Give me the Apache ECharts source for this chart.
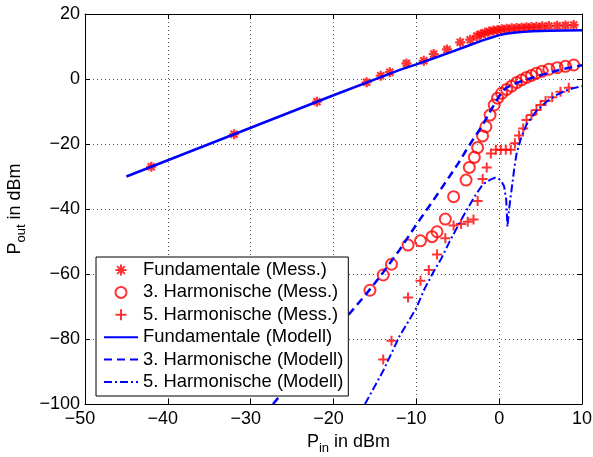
<!DOCTYPE html>
<html><head><meta charset="utf-8">
<script src="https://cdn.jsdelivr.net/npm/echarts@6/dist/echarts.min.js"></script>
<style>html,body{margin:0;padding:0;background:#fff}#c{width:593px;height:457px}</style>
</head><body><div id="c"></div>
<script>
// ---- data ----
const fundMessX = [-42, -32, -22, -16, -14.3, -13.2, -11.2, -9.1, -7.9, -6.3, -4.7, -3.5, -2.7, -2.2, -1.7, -1.2, -0.7, -0.2, 0.3, 0.9, 1.5, 2.1, 2.7, 3.3, 3.9, 4.5, 5.2, 6.0, 7.0, 8.0, 9.0];
const fundMessY = [-27, -17, -7, -1, 1, 2.1, 4.8, 5.6, 7.7, 9.1, 11.3, 12.1, 13.2, 13.8, 14.2, 14.6, 14.9, 15.1, 15.3, 15.5, 15.6, 15.7, 15.8, 15.9, 16.0, 16.1, 16.2, 16.3, 16.4, 16.5, 16.6];

const h3MessX = [-15.6, -14.0, -13.0, -11.0, -9.5, -8.1, -7.5, -6.5, -5.5, -4.0, -3.6, -3.0, -2.6, -2.0, -1.6, -1.1, -0.6, -0.2, 0.3, 0.9, 1.5, 2.1, 2.7, 3.3, 3.9, 4.5, 5.2, 6.0, 7.0, 8.0, 9.0];
const h3MessY = [-65, -60.3, -57, -51.1, -49.8, -48.5, -47, -43.1, -36.2, -31.1, -27.2, -24.1, -21.1, -17.5, -14.7, -11.1, -8.0, -5.9, -4.4, -3.2, -2.2, -1.1, -0.3, 0.5, 1.1, 1.8, 2.4, 3.0, 3.5, 3.9, 4.3];

const h5MessX = [-14.0, -13.0, -11.0, -9.5, -8.5, -7.5, -6.5, -5.5, -4.6, -3.8, -3.1, -2.6, -2.0, -1.5, -1.0, -0.4, 0.2, 0.8, 1.4, 1.9, 2.4, 2.9, 3.3, 3.9, 4.5, 5.0, 5.6, 6.4, 7.4, 8.4];
const h5MessY = [-86.3, -80.5, -67.2, -62.1, -58.8, -54, -49, -45.1, -44.6, -43.9, -43.2, -37.5, -30.8, -27.2, -22.9, -21.8, -21.8, -21.8, -21.8, -19.8, -17.4, -15.2, -12.6, -11.1, -9.5, -8.0, -6.8, -5.6, -3.9, -2.7];

const fundModX = [-45, -40, -30, -20, -15, -12, -10, -8, -6, -4, -2, -1, 0, 1, 2, 3, 4, 6, 8, 10];
const fundModY = [-30, -25, -15, -5, -0.1, 2.8, 4.5, 6.3, 8.1, 10, 11.9, 12.7, 13.5, 14, 14.3, 14.5, 14.7, 14.85, 14.95, 15];

const h3ModX = [-27.3, -24, -21, -18, -16, -14, -12, -10, -8, -6, -5, -4, -3, -2, -1, -0.5, 0, 0.5, 1, 2, 3, 4, 5, 6, 7, 8, 9, 10];
const h3ModY = [-100, -90, -81, -72, -66, -59.5, -52.5, -44.8, -37.5, -30, -26.2, -22, -18, -14.2, -9.6, -7.5, -5.3, -3.5, -2.5, -1.3, -0.4, 0.4, 1.2, 1.9, 2.6, 3.2, 3.7, 4.2];

const h5ModX = [-16.2, -14, -12, -10, -9, -8, -7, -6, -5, -4, -3, -2, -1.5, -1, -0.5, 0, 0.3, 0.6, 0.85, 1.0, 1.2, 1.5, 1.8, 2.1, 2.6, 3.3, 4.5, 5.8, 7, 8, 9, 10];
const h5ModY = [-100, -89.8, -79, -70.5, -64.5, -59.7, -55.3, -50.1, -45.3, -40.7, -36.3, -32.5, -31.6, -30.9, -30.4, -30.8, -31.6, -33.1, -37.2, -45.5, -40, -34, -28, -23, -18.5, -14, -9.8, -6.8, -4.8, -3.6, -2.8, -2.2];

const xTicks = [-50, -40, -30, -20, -10, 0, 10];
const yTicks = [-100, -80, -60, -40, -20, 0, 20];
const seriesNames = ['Fundamentale (Mess.)', '3. Harmonische (Mess.)', '5. Harmonische (Mess.)',
                     'Fundamentale (Modell)', '3. Harmonische (Modell)', '5. Harmonische (Modell)'];

// ---- chart ----
function pairs(xs, ys) { return xs.map((x, i) => [x, ys[i]]); }
const FONT = '"Liberation Sans", Arial, Helvetica, sans-serif';
const RED = '#ff0000', BLUE = '#0000ff';
const STAR = 'path://M5,0L5,10M0,5L10,5M1.5,1.5L8.5,8.5M1.5,8.5L8.5,1.5';
const PLUS = 'path://M5,0L5,10M0,5L10,5';

const xStep = xTicks[1] - xTicks[0];
const yStep = yTicks[1] - yTicks[0];

const tickCommon = { show: true, inside: true, length: 5, lineStyle: { color: '#000', width: 1 } };
const lineCommon = { show: true, onZero: false, lineStyle: { color: '#000', width: 1 } };
const gridLine = { show: true, lineStyle: { color: '#555', width: 1, type: [1, 3] } };

const legendData = seriesNames.map((n, i) => i < 3 ? { name: n } : { name: n, itemStyle: { opacity: 0 } });

const chart = echarts.init(document.getElementById('c'), null, { renderer: 'canvas' });
chart.setOption({
  animation: false,
  backgroundColor: '#fff',
  grid: { left: 85, right: 11, top: 14, bottom: 53, containLabel: false, outerBoundsMode: 'none' },
  xAxis: [{
    type: 'value', min: xTicks[0], max: xTicks[xTicks.length - 1], interval: xStep, position: 'bottom',
    axisLine: lineCommon, axisTick: tickCommon, splitLine: gridLine,
    axisLabel: {
      show: true, showMinLabel: true, showMaxLabel: true, margin: 6, color: '#000', fontSize: 18, fontFamily: FONT,
      formatter: v => v < 0 ? '{n|\u2212' + (-v) + '}' : '{p|' + v + '}',
      rich: { n: { fontSize: 18, fontFamily: FONT, color: '#000', padding: [0, 10, 0, 0] }, p: { fontSize: 18, fontFamily: FONT, color: '#000' } }
    },
    name: '{pad|}{a|P}{b|in}{a| in dBm}', nameLocation: 'middle', nameGap: 22,
    nameTextStyle: {
      rich: {
        pad: { width: 30 },
        a: { fontSize: 18, fontFamily: FONT, color: '#000', lineHeight: 26, verticalAlign: 'middle' },
        b: { fontSize: 13, fontFamily: FONT, color: '#000', lineHeight: 12, verticalAlign: 'bottom' }
      }
    }
  }, {
    type: 'value', min: xTicks[0], max: xTicks[xTicks.length - 1], interval: xStep, position: 'top',
    axisLine: lineCommon, axisTick: tickCommon, axisLabel: { show: false }, splitLine: { show: false }
  }],
  yAxis: [{
    type: 'value', min: yTicks[0], max: yTicks[yTicks.length - 1], interval: yStep, position: 'left',
    axisLine: lineCommon, axisTick: tickCommon, splitLine: gridLine,
    axisLabel: {
      show: true, showMinLabel: true, showMaxLabel: true, margin: 5, color: '#000', fontSize: 18, fontFamily: FONT,
      formatter: v => v < 0 ? '\u2212' + (-v) : String(v)
    },
    name: '{a|P}{b|out}{a| in dBm}', nameLocation: 'middle', nameGap: 57, nameRotate: 90,
    nameTextStyle: {
      rich: {
        a: { fontSize: 18, fontFamily: FONT, color: '#000', lineHeight: 26, verticalAlign: 'middle' },
        b: { fontSize: 13, fontFamily: FONT, color: '#000', lineHeight: 12, verticalAlign: 'bottom' }
      }
    }
  }, {
    type: 'value', min: yTicks[0], max: yTicks[yTicks.length - 1], interval: yStep, position: 'right',
    axisLine: lineCommon, axisTick: tickCommon, axisLabel: { show: false }, splitLine: { show: false }
  }],
  legend: {
    orient: 'vertical', left: 96, top: 257, padding: [4, 5, 5, 7], itemGap: 4.4,
    itemWidth: 34, itemHeight: 11, selectedMode: false,
    backgroundColor: '#fff', borderColor: '#000', borderWidth: 1, borderRadius: 0,
    textStyle: { fontSize: 18.4, fontFamily: FONT, color: '#000', lineHeight: 18 },
    data: legendData
  },
  series: [
    { name: seriesNames[0], type: 'scatter', data: pairs(fundMessX, fundMessY), symbol: STAR, symbolSize: 10,
      itemStyle: { color: RED, borderColor: RED, borderWidth: 2.2 }, z: 2 },
    { name: seriesNames[1], type: 'scatter', data: pairs(h3MessX, h3MessY), symbol: 'circle', symbolSize: 11,
      itemStyle: { color: 'rgba(0,0,0,0)', borderColor: RED, borderWidth: 2 }, z: 2 },
    { name: seriesNames[2], type: 'scatter', data: pairs(h5MessX, h5MessY), symbol: PLUS, symbolSize: 10,
      itemStyle: { color: RED, borderColor: RED, borderWidth: 2 }, z: 2 },
    { name: seriesNames[3], type: 'line', data: pairs(fundModX, fundModY), showSymbol: false, symbol: 'none',
      lineStyle: { color: BLUE, width: 2.5, type: 'solid' }, itemStyle: { color: BLUE }, z: 3 },
    { name: seriesNames[4], type: 'line', data: pairs(h3ModX, h3ModY), showSymbol: false, symbol: 'none',
      lineStyle: { color: BLUE, width: 2.5, type: [8, 5] }, itemStyle: { color: BLUE }, z: 3 },
    { name: seriesNames[5], type: 'line', data: pairs(h5ModX, h5ModY), showSymbol: false, symbol: 'none',
      lineStyle: { color: BLUE, width: 2, type: [8, 3, 2, 3] }, itemStyle: { color: BLUE }, z: 3 }
  ]
});
</script>
</body></html>
